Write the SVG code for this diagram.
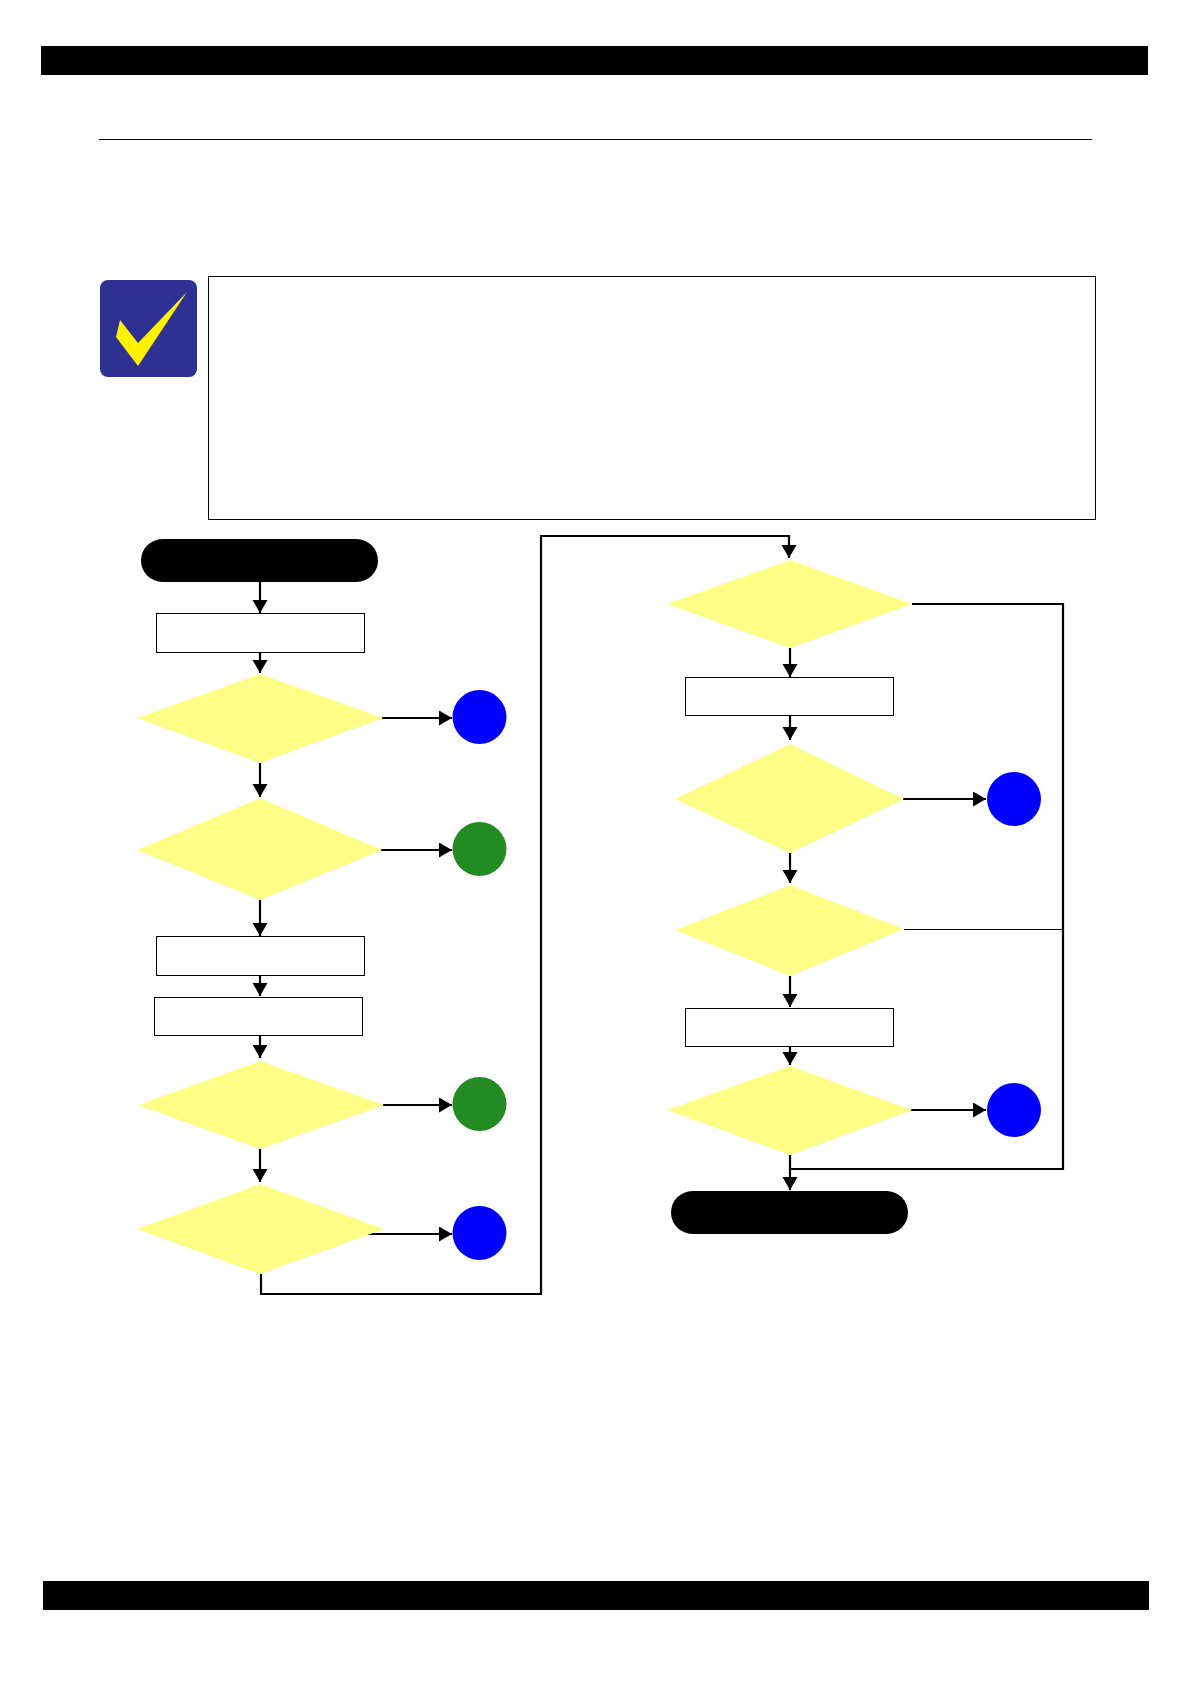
<svg xmlns="http://www.w3.org/2000/svg" width="1192" height="1686" viewBox="0 0 1192 1686">
<style>
.bar{fill:#000}
.dec{fill:#ffff88}
.proc{fill:#fff;stroke:#000;stroke-width:1}
.term{fill:#000}
.blue{fill:#00f}
.green{fill:#228b22}
.c{fill:none;stroke:#000;stroke-width:2.2}
.a{marker-end:url(#ah)}
</style>
<defs>
<marker id="ah" markerUnits="userSpaceOnUse" markerWidth="14" markerHeight="16" refX="13" refY="7.5" orient="auto" viewBox="0 0 14 16"><path d="M0 0L13 7.5L0 15Z" fill="#000"/></marker>
</defs>
<rect width="1192" height="1686" fill="#fff"/>
<rect id="header-bar" class="bar" x="41" y="46" width="1107" height="29"/>
<rect id="footer-bar" class="bar" x="43" y="1581" width="1106" height="29"/>
<line id="header-rule" x1="99" y1="139.5" x2="1092" y2="139.5" stroke="#000" stroke-width="1"/>
<g id="check-icon">
<rect x="100" y="280" width="97" height="97" rx="8" fill="#2e3192"/>
<polygon points="187,292 138,366 116,337 120,320 138,343" fill="#fff200"/>
</g>
<rect id="note-box" x="208.5" y="276.5" width="887" height="243" fill="#fff" stroke="#000" stroke-width="1"/>
<g id="connectors">
<path class="c a" d="M260 582V613"/>
<path class="c a" d="M260 652V673"/>
<path class="c a" d="M382 718H452"/>
<path class="c a" d="M260 763V797"/>
<path class="c a" d="M381 850H452"/>
<path class="c a" d="M260 900V936"/>
<path class="c a" d="M260 975V996"/>
<path class="c a" d="M260 1035V1058"/>
<path class="c a" d="M383 1105H452"/>
<path class="c a" d="M260 1149V1182"/>
<path class="c a" d="M368 1234H452"/>
<path class="c a" d="M261 1274V1294H541V536H789V558"/>
<path class="c a" d="M790 648V677"/>
<path class="c a" d="M790 715V740"/>
<path class="c a" d="M903 799H986"/>
<path class="c a" d="M790 853V883"/>
<path class="c a" d="M790 976V1007"/>
<path class="c a" d="M790 1046V1065"/>
<path class="c a" d="M911 1110H986"/>
<path class="c a" d="M790 1155V1190"/>
<path class="c" d="M912 604H1063V1169H790"/>
<path d="M904 929.5H1063" fill="none" stroke="#000" stroke-width="1"/>
</g>
<g id="start"><rect class="term" x="141" y="539" width="237" height="43" rx="21.5" ry="21.5"/></g>
<g id="step-1"><rect class="proc" x="156.5" y="613.5" width="208" height="39"/></g>
<g id="decision-1"><polygon class="dec" points="260,674 383,718 260,763 137,718"/></g>
<g id="off-page-1"><circle class="blue" cx="479.500" cy="717" r="27"/></g>
<g id="decision-2"><polygon class="dec" points="260,798 382,850 260,900 137,850"/></g>
<g id="off-page-2"><circle class="green" cx="479.500" cy="849" r="27"/></g>
<g id="step-2"><rect class="proc" x="156.500" y="936.500" width="208" height="39"/></g>
<g id="step-3"><rect class="proc" x="154.500" y="997.500" width="208" height="38"/></g>
<g id="decision-3"><polygon class="dec" points="260,1061 384,1105 260,1149 138,1105"/></g>
<g id="off-page-3"><circle class="green" cx="479.500" cy="1104" r="27"/></g>
<g id="decision-4"><polygon class="dec" points="260,1184 384,1229 260,1274 137,1229"/></g>
<g id="off-page-4"><circle class="blue" cx="479.500" cy="1233" r="27"/></g>
<g id="decision-5"><polygon class="dec" points="790,560 912,604 790,648 667,604"/></g>
<g id="step-4"><rect class="proc" x="685.500" y="677.500" width="208" height="38"/></g>
<g id="decision-6"><polygon class="dec" points="790,744 904,799 790,853 675,799"/></g>
<g id="off-page-5"><circle class="blue" cx="1014" cy="799" r="27"/></g>
<g id="decision-7"><polygon class="dec" points="790,885 904,929 790,976 675,930"/></g>
<g id="step-5"><rect class="proc" x="685.500" y="1008.500" width="208" height="38"/></g>
<g id="decision-8"><polygon class="dec" points="790,1066 912,1110 790,1155 667,1110"/></g>
<g id="off-page-6"><circle class="blue" cx="1014" cy="1110" r="27"/></g>
<g id="end"><rect class="term" x="671" y="1191" width="237" height="43" rx="21.5" ry="21.5"/></g>
</svg>
